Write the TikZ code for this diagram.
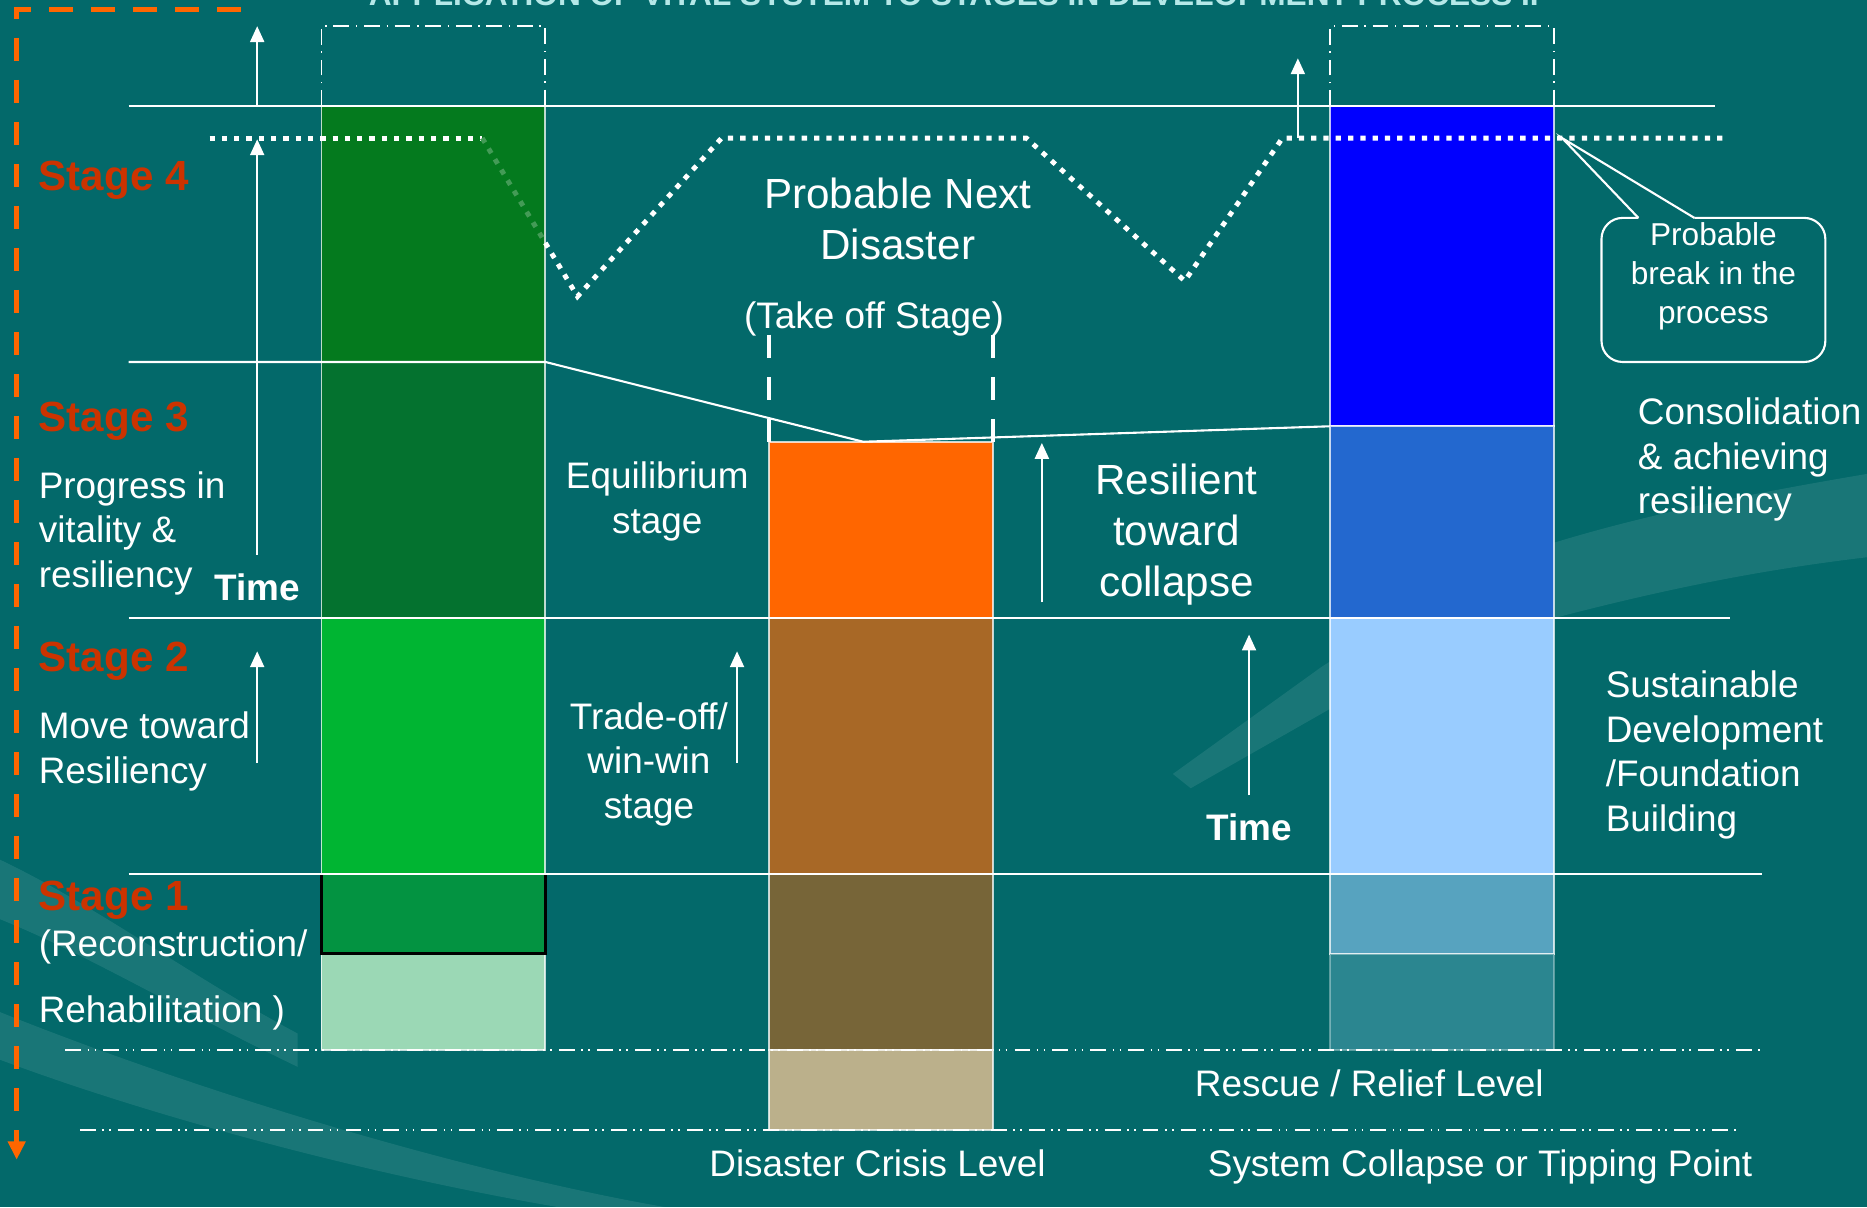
\documentclass[tikz,border=0pt]{standalone}
\usepackage{fontspec}
\setmainfont{Liberation Sans}
\usetikzlibrary{arrows.meta}
\definecolor{bgteal}{HTML}{03696A}
\definecolor{titlecyan}{HTML}{B5E8E8}
\definecolor{stagered}{HTML}{CC3300}
\definecolor{frameorange}{HTML}{FF6600}
\definecolor{gTop}{HTML}{047A1E}
\definecolor{gMid}{HTML}{04722F}
\definecolor{gLow}{HTML}{00B532}
\definecolor{gOne}{HTML}{039341}
\definecolor{gPale}{HTML}{9BD8B5}
\definecolor{oTop}{HTML}{FF6600}
\definecolor{oMid}{HTML}{A86826}
\definecolor{oLow}{HTML}{776538}
\definecolor{oTan}{HTML}{BBB08B}
\definecolor{bTop}{HTML}{0000FF}
\definecolor{bMid}{HTML}{2368CF}
\definecolor{bLow}{HTML}{99CCFF}
\definecolor{bOne}{HTML}{57A3BF}
\definecolor{bPale}{HTML}{2B8690}
\begin{document}
\begin{tikzpicture}[x=0.11907mm,y=-0.11907mm,
	hline/.style={white,line width=0.6pt},
	cell/.style={draw=white,draw opacity=0.75,line width=0.5pt},
	swoosh/.style={white,opacity=0.09},
	txt/.style={text=white,font=\fontsize{10.5}{12.7}\selectfont,inner sep=0pt},
	bigtxt/.style={text=white,font=\fontsize{12}{14.6}\selectfont,inner sep=0pt},
	stagelbl/.style={text=stagered,font=\fontsize{12}{14}\selectfont\bfseries,inner sep=0pt,anchor=base west},
	timelbl/.style={text=white,font=\fontsize{10.5}{12}\selectfont\bfseries,inner sep=0pt,anchor=base},
	up/.style={white,line width=0.5pt,-{Triangle[width=4pt,length=4.5pt]}},
	dotline/.style={white,line width=1.4pt,dash pattern=on 1.5pt off 2pt},
	boxline/.style={white,line width=0.5pt,dash pattern=on 4.5pt off 1.9pt on 0.4pt off 1.9pt},
	levelline/.style={white,line width=0.6pt,dash pattern=on 4.5pt off 1.8pt on 0.5pt off 1.5pt on 0.5pt off 2pt},
	bracket/.style={white,line width=1.3pt,dash pattern=on 6.75pt off 5.25pt}]
	\useasboundingbox (0,0) rectangle (1568,1014);
	\clip (0,0) rectangle (1568,1014);
	\fill[bgteal] (0,0) rectangle (1568,1014);
	\fill[swoosh] (0,722) .. controls (80,760) and (160,820) .. (250,868) -- (250,896) .. controls (150,848) and (70,800) .. (0,772) -- cycle;
	\fill[swoosh] (0,850) .. controls (200,930) and (420,990) .. (560,1014) -- (470,1014) .. controls (300,985) and (120,935) .. (0,890) -- cycle;
	\fill[swoosh] (1568,398) .. controls (1450,418) and (1340,440) .. (1240,478) -- (1110,560) -- (985,650) -- (1000,662) -- (1200,548) .. controls (1350,505) and (1450,482) .. (1568,468) -- cycle;
	\node[font=\fontsize{9}{11}\selectfont\bfseries,text=titlecyan,anchor=base,inner sep=0pt] (title) at (801,5) {APPLICATION OF VITAL SYSTEM TO STAGES IN DEVELOPMENT PROCESS II};
	\filldraw[cell,fill=gTop] (270,89) rectangle (458,304);
	\filldraw[cell,fill=gMid] (270,304) rectangle (458,519);
	\filldraw[cell,fill=gLow] (270,519) rectangle (458,734);
	\filldraw[cell,fill=gPale] (270,801) rectangle (458,882);
	\filldraw[fill=gOne,draw=black,line width=0.8pt] (270,734) rectangle (458,801);
	\filldraw[cell,fill=oTop] (646,371) rectangle (834,519);
	\filldraw[cell,fill=oMid] (646,519) rectangle (834,734);
	\filldraw[cell,fill=oLow] (646,734) rectangle (834,882);
	\filldraw[cell,fill=oTan] (646,882) rectangle (834,949);
	\filldraw[cell,fill=bTop] (1117,89) rectangle (1305,358);
	\filldraw[cell,fill=bMid] (1117,358) rectangle (1305,519);
	\filldraw[cell,fill=bLow] (1117,519) rectangle (1305,734);
	\filldraw[cell,fill=bOne] (1117,734) rectangle (1305,801);
	\filldraw[cell,fill=bPale,draw opacity=0.35] (1117,801) rectangle (1305,882);
	\draw[hline] (108,89) -- (1440,89);
	\draw[hline] (108,304) -- (458,304) -- (725,371) -- (1117,358);
	\draw[hline] (108,519) -- (1453,519);
	\draw[hline] (108,734) -- (1480,734);
	\draw[levelline] (55,882) -- (1480,882);
	\draw[levelline] (67,949) -- (1460,949);
	\draw[boxline] (270,89) -- (270,22) -- (458,22) -- (458,89);
	\draw[boxline] (1117,89) -- (1117,22) -- (1305,22) -- (1305,89);
	\draw[dotline] (176,116) -- (405,116);
	\draw[dotline,color=white!25!gTop] (405,116) -- (458,204);
	\draw[dotline] (458,204) -- (485,249) -- (606,116) -- (862,116) -- (995,236) -- (1077,116) -- (1452,116);
	\draw[bracket] (646,281) -- (646,371);
	\draw[bracket] (834,281) -- (834,371);
	\draw[up] (216,89) -- (216,22);
	\draw[up] (216,466) -- (216,117);
	\draw[up] (216,641) -- (216,547);
	\draw[up] (619,641) -- (619,547);
	\draw[up] (875,506) -- (875,372);
	\draw[up] (1049,668) -- (1049,533);
	\draw[up] (1090,116) -- (1090,49);
	\draw[hline,rounded corners=6pt] (1376,183) -- (1345,183) -- (1345,304) -- (1533,304) -- (1533,183) -- (1423,183);
	\draw[hline] (1376,183) -- (1312,116) -- (1423,183);
	\draw[frameorange,line width=1.5pt,dash pattern=on 6.75pt off 5.2pt,-{Triangle[width=4.8pt,length=5.2pt]}] (202,8) -- (14,8) -- (14,974);
	\node[stagelbl] (s4) at (32,160) {Stage 4};
	\node[stagelbl] (s3) at (32,362) {Stage 3};
	\node[stagelbl] (s2) at (32,564) {Stage 2};
	\node[stagelbl] (s1) at (32,765) {Stage 1};
	\node[txt,align=left,anchor=west] (prog) at (32,448) {Progress in\\vitality \&\\resiliency};
	\node[txt,align=left,anchor=west] (move) at (32,631) {Move toward\\Resiliency};
	\node[txt,anchor=base west] (recon) at (32,803) {(Reconstruction/};
	\node[txt,anchor=base west] (rehab) at (32,859) {Rehabilitation )};
	\node[timelbl] (time1) at (216,504) {Time};
	\node[txt,align=center] (equi) at (552,421) {Equilibrium\\stage};
	\node[txt,align=center] (trade) at (545,642) {Trade-off/\\win-win\\stage};
	\node[bigtxt,align=center] (next) at (754,184) {Probable Next\\Disaster};
	\node[txt,anchor=base] (takeoff) at (734,276) {(Take off Stage)};
	\node[bigtxt,align=center] (resil) at (988,449) {Resilient\\toward\\collapse};
	\node[timelbl] (time2) at (1049,706) {Time};
	\node[txt,align=left,anchor=west] (consol) at (1375,386) {Consolidation\\\& achieving\\resiliency};
	\node[txt,align=left,anchor=west] (sust) at (1348,634) {Sustainable\\Development\\/Foundation\\Building};
	\node[text=white,font=\fontsize{9}{11}\selectfont,inner sep=0pt,align=center] (brk) at (1439,232) {Probable\\break in the\\process};
	\node[txt,anchor=base] (rescue) at (1150,921) {Rescue / Relief Level};
	\node[txt,anchor=base] (crisis) at (737,988) {Disaster Crisis Level};
	\node[txt,anchor=base] (tipping) at (1243,988) {System Collapse or Tipping Point};
\end{tikzpicture}
\end{document}
